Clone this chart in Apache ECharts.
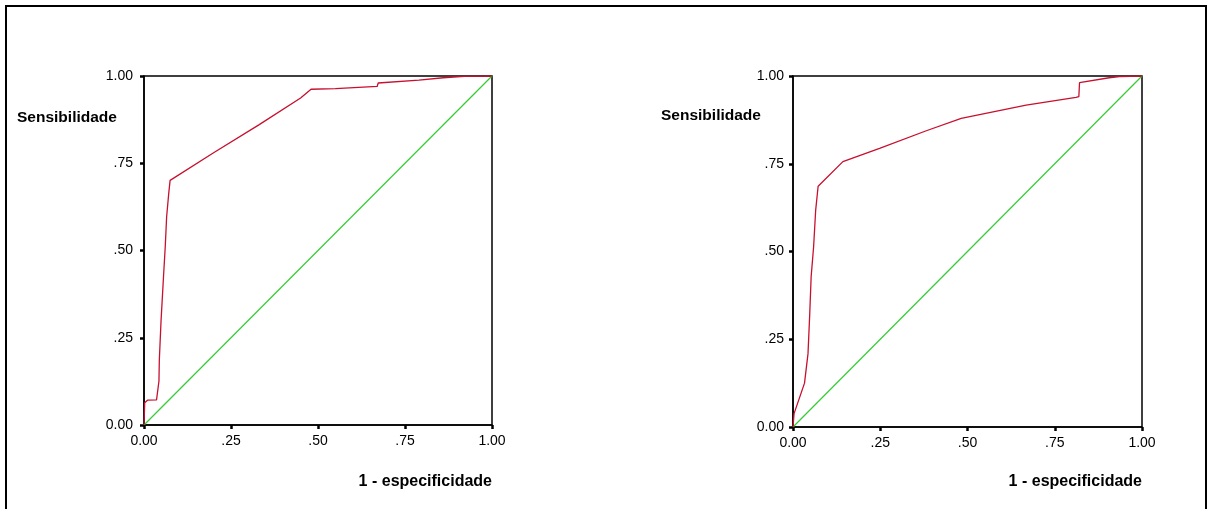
<!DOCTYPE html>
<html>
<head>
<meta charset="utf-8">
<script src="https://cdn.jsdelivr.net/npm/echarts@6/dist/echarts.min.js"></script>
<style>
html,body{margin:0;padding:0;background:#fff;}
#chart{width:1208px;height:509px;}
</style>
</head>
<body>
<div id="chart"></div>
<script>
// Tick values and labels (shared by both axes)
const tickValues = [0, 0.25, 0.5, 0.75, 1];
const tickLabels = ['0.00', '.25', '.50', '.75', '1.00'];
const yAxisTitle = 'Sensibilidade';
const xAxisTitle = '1 - especificidade';

// Left ROC curve: 1 - specificity vs sensitivity
const leftFpr = [0, 0.002, 0.002, 0.010, 0.036, 0.038, 0.043, 0.044, 0.049, 0.056, 0.061, 0.065, 0.071, 0.075, 0.20, 0.33, 0.45, 0.48, 0.55, 0.67, 0.673, 0.79, 0.86, 0.92, 1];
const leftTpr = [0, 0.000, 0.064, 0.071, 0.072, 0.075, 0.126, 0.185, 0.299, 0.424, 0.510, 0.596, 0.663, 0.701, 0.780, 0.860, 0.937, 0.962, 0.964, 0.970, 0.980, 0.988, 0.995, 0.999, 1];

// Right ROC curve
const rightFpr = [0, 0.003, 0.033, 0.043, 0.048, 0.052, 0.059, 0.065, 0.072, 0.143, 0.248, 0.382, 0.482, 0.668, 0.811, 0.819, 0.821, 0.906, 0.935, 1];
const rightTpr = [0, 0.038, 0.125, 0.209, 0.323, 0.428, 0.513, 0.618, 0.686, 0.756, 0.794, 0.844, 0.879, 0.917, 0.939, 0.941, 0.981, 0.995, 0.998, 1];

// Reference diagonal
const diagX = [0, 1];
const diagY = [0, 1];

function zip(a, b) { return a.map((v, i) => [v, b[i]]); }

const FONT = "'Liberation Sans', Arial, sans-serif";
const labelMap = {};
tickValues.forEach((v, i) => { labelMap[v] = tickLabels[i]; });
function fmt(v) { return labelMap[v] !== undefined ? labelMap[v] : ''; }

function xAx(gi) {
  return {
    gridIndex: gi, type: 'value', min: 0, max: 1, interval: 0.25,
    axisLine: { show: true, lineStyle: { color: '#000', width: 1.5 } },
    axisTick: { show: true, length: 4, lineStyle: { color: '#000', width: 2.5 } },
    axisLabel: { formatter: fmt, color: '#000', fontSize: 14, fontFamily: FONT, margin: 9 },
    splitLine: { show: false }
  };
}
function yAx(gi, margin) {
  return {
    gridIndex: gi, type: 'value', min: 0, max: 1, interval: 0.25,
    axisLine: { show: true, lineStyle: { color: '#000', width: 1.5 } },
    axisTick: { show: true, length: 4, lineStyle: { color: '#000', width: 2.5 } },
    axisLabel: { formatter: fmt, color: '#000', fontSize: 14, fontFamily: FONT, margin: margin },
    splitLine: { show: false }
  };
}

const chart = echarts.init(document.getElementById('chart'), null, { renderer: 'canvas' });
const RED = '#c8102e';
const GREEN = '#33cc33';

chart.setOption({
  backgroundColor: '#fff',
  animation: false,
  grid: [
    { left: 144, top: 76, width: 348, height: 349, show: true, borderColor: '#000', borderWidth: 1.5, backgroundColor: 'transparent' },
    { left: 793, top: 76, width: 349, height: 351, show: true, borderColor: '#000', borderWidth: 1.5, backgroundColor: 'transparent' }
  ],
  xAxis: [xAx(0), xAx(1)],
  yAxis: [yAx(0, 11), yAx(1, 9)],
  series: [
    { type: 'line', xAxisIndex: 0, yAxisIndex: 0, data: zip(diagX, diagY), showSymbol: false, lineStyle: { color: GREEN, width: 1.2 }, z: 3 },
    { type: 'line', xAxisIndex: 0, yAxisIndex: 0, data: zip(leftFpr, leftTpr), showSymbol: false, lineStyle: { color: RED, width: 1.3 }, z: 4 },
    { type: 'line', xAxisIndex: 1, yAxisIndex: 1, data: zip(diagX, diagY), showSymbol: false, lineStyle: { color: GREEN, width: 1.2 }, z: 3 },
    { type: 'line', xAxisIndex: 1, yAxisIndex: 1, data: zip(rightFpr, rightTpr), showSymbol: false, lineStyle: { color: RED, width: 1.3 }, z: 4 }
  ],
  graphic: [
    { type: 'rect', shape: { x: 6, y: 6, width: 1200, height: 540 }, style: { fill: 'none', stroke: '#000', lineWidth: 2 }, silent: true, z: 0 },
    { type: 'text', left: 17, top: 110, style: { text: yAxisTitle, font: "bold 15.5px " + FONT, fill: '#000' } },
    { type: 'text', left: 661, top: 108, style: { text: yAxisTitle, font: "bold 15.5px " + FONT, fill: '#000' } },
    { type: 'text', right: 1208 - 492, top: 474, style: { text: xAxisTitle, font: "bold 16px " + FONT, fill: '#000' } },
    { type: 'text', right: 1208 - 1142, top: 474, style: { text: xAxisTitle, font: "bold 16px " + FONT, fill: '#000' } }
  ]
});
</script>
</body>
</html>
